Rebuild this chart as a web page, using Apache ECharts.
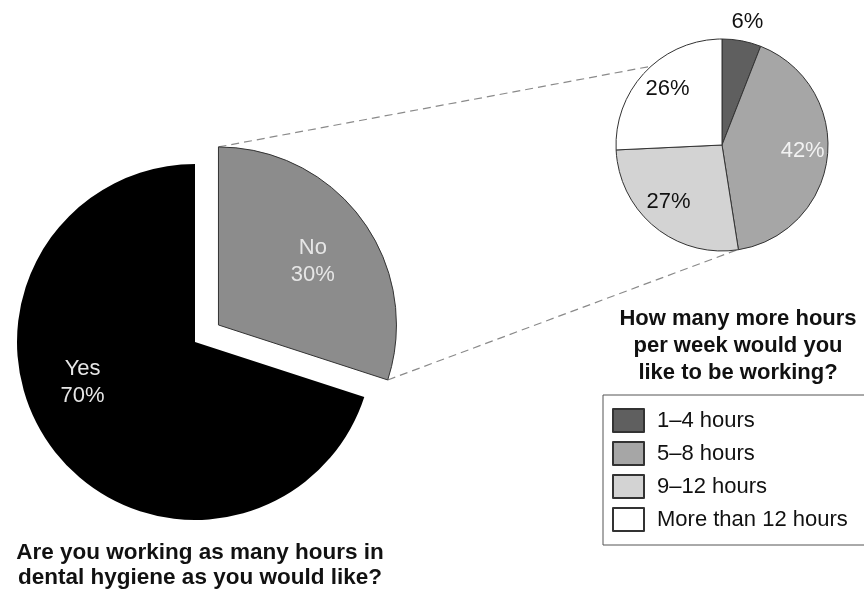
<!DOCTYPE html>
<html>
<head>
<meta charset="utf-8">
<script src="https://cdn.jsdelivr.net/npm/echarts@6/dist/echarts.min.js"></script>
<style>html,body{margin:0;padding:0;background:#fff}#c{width:864px;height:595px}</style>
</head>
<body>
<div id="c"></div>
<script>
// ---- data ----
var mainCategories = ['No', 'Yes'];
var mainValues = [30, 70];
var hourCategories = ['1\u20134 hours', '5\u20138 hours', '9\u201312 hours', 'More than 12 hours'];
var hourValues = [6, 42, 27, 26];
var mainTitle = 'Are you working as many hours in\ndental hygiene as you would like?';
var subTitle = 'How many more hours\nper week would you\nlike to be working?';

// ---- styles ----
var FONT = '"Liberation Sans", Arial, Helvetica, sans-serif';
var mainColors = ['#8c8c8c', '#000000'];
var mainLabelShift = [[20, -9], [-38, -14]];
var hourColors = ['#5f5f5f', '#a6a6a6', '#d3d3d3', '#ffffff'];
var hourLabelColors = ['#111', '#f2f2f2', '#111', '#111'];
var hourLabelShift = [[15, -68], [25, 0], [-18, 14], [-14, -17]];
var bigCenter = [195, 342], bigR = 178, explode = 29;
var smallCenter = [722, 145], smallR = 106;

function polar(c, r, degFromTop) {
  var a = degFromTop * Math.PI / 180;
  return [c[0] + r * Math.sin(a), c[1] - r * Math.cos(a)];
}
var total = mainValues.reduce(function (a, b) { return a + b; }, 0);
var noSweep = mainValues[0] / total * 360;
var offDir = polar([0, 0], explode, noSweep / 2);
var noCenter = [bigCenter[0] + offDir[0], bigCenter[1] + offDir[1]];
var p1 = polar(noCenter, bigR, 0);
var p2 = polar(noCenter, bigR, noSweep);
var q1 = polar(smallCenter, smallR, 318);
var q2 = polar(smallCenter, smallR, 172);

var chart = echarts.init(document.getElementById('c'), null, {renderer: 'canvas'});
chart.setOption({
  animation: false,
  backgroundColor: '#ffffff',
  legend: {
    data: hourCategories,
    orient: 'vertical',
    left: 603, top: 395,
    itemWidth: 31, itemHeight: 23, itemGap: 8,
    padding: [13, 40, 13, 9],
    borderColor: '#555', borderWidth: 1,
    icon: 'rect',
    selectedMode: false,
    textStyle: {fontFamily: FONT, fontSize: 22, color: '#111', padding: [0, 0, 0, 8]}
  },
  graphic: [
    {type: 'line', silent: true, z: 0, shape: {x1: p1[0], y1: p1[1], x2: q1[0], y2: q1[1]},
     style: {stroke: '#8a8a8a', lineWidth: 1.2, lineDash: [8, 5]}},
    {type: 'line', silent: true, z: 0, shape: {x1: p2[0], y1: p2[1], x2: q2[0], y2: q2[1]},
     style: {stroke: '#8a8a8a', lineWidth: 1.2, lineDash: [8, 5]}},
    {type: 'text', x: 200, y: 540, style: {text: mainTitle, fontFamily: FONT, fontSize: 22.5, fontWeight: 'bold',
      fill: '#111', textAlign: 'center', textVerticalAlign: 'top', lineHeight: 25}},
    {type: 'text', x: 738, y: 305, style: {text: subTitle, fontFamily: FONT, fontSize: 22, fontWeight: 'bold',
      fill: '#111', textAlign: 'center', textVerticalAlign: 'top', lineHeight: 27}}
  ],
  series: [
    {
      type: 'pie', name: 'main', center: bigCenter, radius: bigR,
      startAngle: 90, clockwise: true,
      selectedMode: 'single', selectedOffset: explode,
      emphasis: {disabled: true},
      label: {show: true, position: 'inside', fontFamily: FONT, fontSize: 22, lineHeight: 27,
        color: '#e6e6e6', formatter: function (p) { return p.name + '\n' + p.value + '%'; }},
      labelLine: {show: false},
      labelLayout: function (p) { var s = mainLabelShift[p.dataIndex]; return {dx: s[0], dy: s[1]}; },
      data: mainCategories.map(function (n, i) {
        return {name: n, value: mainValues[i], selected: i === 0,
          itemStyle: {color: mainColors[i], borderColor: i === 0 ? '#333' : '#000', borderWidth: i === 0 ? 1 : 0}};
      })
    },
    {
      type: 'pie', name: 'hours', center: smallCenter, radius: smallR,
      startAngle: 90, clockwise: true,
      emphasis: {disabled: true},
      itemStyle: {borderColor: '#333', borderWidth: 1},
      label: {show: true, position: 'inside', fontFamily: FONT, fontSize: 22,
        formatter: function (p) { return p.value + '%'; }},
      labelLine: {show: false},
      labelLayout: function (p) { var s = hourLabelShift[p.dataIndex]; return {dx: s[0], dy: s[1]}; },
      data: hourCategories.map(function (n, i) {
        return {name: n, value: hourValues[i], itemStyle: {color: hourColors[i]},
          label: {color: hourLabelColors[i]}};
      })
    }
  ]
});
</script>
</body>
</html>
